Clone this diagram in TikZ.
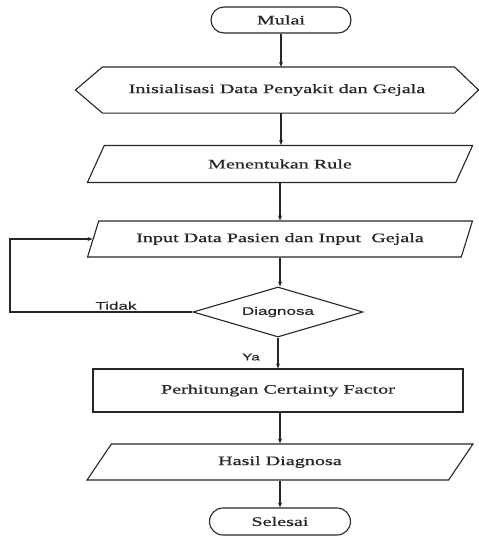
\documentclass[tikz,border=0pt]{standalone}
\usepackage{fontspec}
\setmainfont{Liberation Serif}[FakeStretch=1.55,FakeBold=0.6]
\newfontfamily\labelfont{Liberation Sans}[FakeStretch=1.55,FakeBold=0.4]
\usetikzlibrary{shapes.geometric,shapes.misc,arrows.meta,calc}
\tikzset{
  line/.style={draw=black!85, line width=1.1pt},
  base/.style={line, text=black!85, inner sep=0pt, font=\fontsize{13}{15}\selectfont},
  term/.style={base, rounded rectangle, minimum width=140pt, minimum height=26pt},
  para/.style={base, trapezium, trapezium left angle=53, trapezium right angle=127,
    trapezium stretches=true, minimum width=386pt, minimum height=37pt},
  procbox/.style={base, rectangle, minimum width=370pt, minimum height=43pt},
  decbox/.style={base, diamond, aspect=3.4, minimum width=170pt, minimum height=50pt,
    font=\labelfont\fontsize{11}{13}\selectfont},
  lbl/.style={text=black!85, inner sep=0pt, font=\labelfont\fontsize{11}{13}\selectfont},
  arr/.style={line, -{Stealth[length=5pt,width=4pt]}}
}
\begin{document}
\begin{tikzpicture}[x=1pt,y=-1pt]
\useasboundingbox (0,0) rectangle (479,539);
\fill[white] (0,0) rectangle (479,539);

\node[term] (mulai) at (281,20) {Mulai};
\node[base, draw=none, minimum width=402pt, minimum height=45pt] (init) at (277,90)
  {Inisialisasi Data Penyakit dan Gejala};
\draw[line] (init.west) -- ($(init.north west)+(27,0)$) -- ($(init.north east)+(-24,0)$)
  -- (init.east) -- ($(init.south east)+(-24,0)$) -- ($(init.south west)+(27,0)$) -- cycle;
\node[para] (rule) at (280,164) {Menentukan Rule};
\node[para, minimum height=36pt] (input) at (280,239) {Input Data Pasien dan Input\ \ Gejala};
\node[decbox] (diag) at (278,312) {Diagnosa};
\node[procbox] (hitung) at (278,390.5) {Perhitungan Certainty Factor};
\node[para, minimum height=36pt] (hasil) at (280,462) {Hasil Diagnosa};
\node[term, minimum width=141pt, minimum height=27pt] (selesai) at (280,521.5) {Selesai};

\draw[arr] (mulai.south) -- (mulai.south |- init.north);
\draw[arr] (init.south -| mulai.south) -- (mulai.south |- rule.north);
\draw[arr] (rule.south) -- (rule.south |- input.north);
\draw[arr] (input.south) -- (input.south |- diag.north);
\draw[arr] (diag.south) -- (diag.south |- hitung.north);
\draw[arr] (hitung.south -| hasil.north) -- (hasil.north);
\draw[arr] (hasil.south) -- (hasil.south |- selesai.north);

\coordinate (loopc) at (10,312);
\draw[arr] (diag.west) -- (loopc) |- (input.west);

\node[lbl, anchor=south] (tidak) at (116,310) {Tidak};
\node[lbl, font=\labelfont\fontsize{10}{12}\selectfont] (ya) at (251,357) {Ya};
\end{tikzpicture}
\end{document}
